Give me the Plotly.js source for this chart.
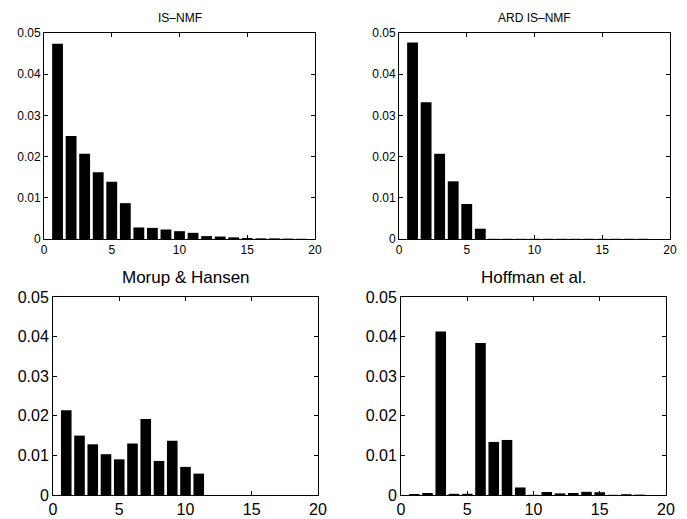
<!DOCTYPE html>
<html>
<head>
<meta charset="utf-8">
<script src="https://cdn.plot.ly/plotly-3.0.1.min.js"></script>
<style>html,body{margin:0;padding:0;background:#fff}#chart{width:687px;height:519px}</style>
</head>
<body>
<div id="chart"></div>
<script>
const components = [1,2,3,4,5,6,7,8,9,10,11,12,13,14,15,16,17,18,19,20];
const isNmf = [0.0474,0.0250,0.0207,0.0162,0.0139,0.0087,0.0028,0.0027,0.0023,0.0019,0.0015,0.0007,0.0006,0.0004,0.00025,0.00016,0.00015,0.0001,0.00005,0];
const ardIsNmf = [0.0477,0.0332,0.0207,0.0140,0.0085,0.0025,0.00005,0.00005,0.00005,0.00005,0.00005,0.00005,0.00005,0.00005,0.00005,0.00005,0.00005,0.00005,0,0];
const morupHansen = [0.0214,0.0150,0.0128,0.0103,0.0090,0.0130,0.0192,0.0086,0.0137,0.0071,0.0054,0,0,0,0,0,0,0,0,0];
const hoffman = [0.00025,0.0005,0.0413,0.0003,0.0003,0.0384,0.0134,0.0139,0.0019,0.00005,0.00075,0.0004,0.0005,0.0008,0.0007,0.00005,0.0002,0.0001,0,0];
const titles = ["IS\u2013NMF","ARD IS\u2013NMF","Morup & Hansen","Hoffman et al."];
const xTicks = [0,5,10,15,20];
const yTicks = [0,0.01,0.02,0.03,0.04,0.05];
const yTickText = ["0","0.01","0.02","0.03","0.04","0.05"];

const series = [isNmf, ardIsNmf, morupHansen, hoffman];
const W = 687, H = 519;
// pixel boxes [left, right, top, bottom]
const boxes = [[44,315,33,239],[399,670,33,239],[53,318,297,495],[401,666,297,495]];
const fontSizes = [12,12,16,16];
const titleSizes = [12,12,17,17];
const titleY = [18,18,277,277];

const data = series.map((s,i)=>({
  type:'bar', x:components, y:s,
  xaxis: i===0?'x':'x'+(i+1), yaxis: i===0?'y':'y'+(i+1),
  marker:{color:'#000', line:{width:0}}, hoverinfo:'skip', showlegend:false
}));

const layout = {
  width:W, height:H, margin:{l:0,r:0,t:0,b:0},
  paper_bgcolor:'#fff', plot_bgcolor:'#fff', bargap:0.2,
  font:{family:'"Liberation Sans", Arial, sans-serif', color:'#000'},
  annotations:[]
};
boxes.forEach((b,i)=>{
  const xs = i===0?'xaxis':'xaxis'+(i+1);
  const ys = i===0?'yaxis':'yaxis'+(i+1);
  const common = {showline:true, linecolor:'#000', linewidth:1, mirror:'ticks', ticks:'inside', ticklen:4, tickcolor:'#000', showgrid:false, zeroline:false, tickfont:{size:fontSizes[i], color:'#000'}, fixedrange:true};
  layout[xs] = Object.assign({}, common, {domain:[b[0]/W, b[1]/W], range:[0,20], tickvals:xTicks, anchor: i===0?'y':'y'+(i+1)});
  layout[ys] = Object.assign({}, common, {domain:[(H-b[3])/H, (H-b[2])/H], range:[0,0.05], tickvals:yTicks, ticktext:yTickText, anchor: i===0?'x':'x'+(i+1)});
  layout.annotations.push({text:titles[i], xref:'paper', yref:'paper', x:(b[0]+b[1])/2/W, y:(H-titleY[i])/H, xanchor:'center', yanchor:'middle', showarrow:false, font:{size:titleSizes[i], color:'#000'}});
});
Plotly.newPlot('chart', data, layout, {displayModeBar:false, staticPlot:true});
</script>
</body>
</html>
